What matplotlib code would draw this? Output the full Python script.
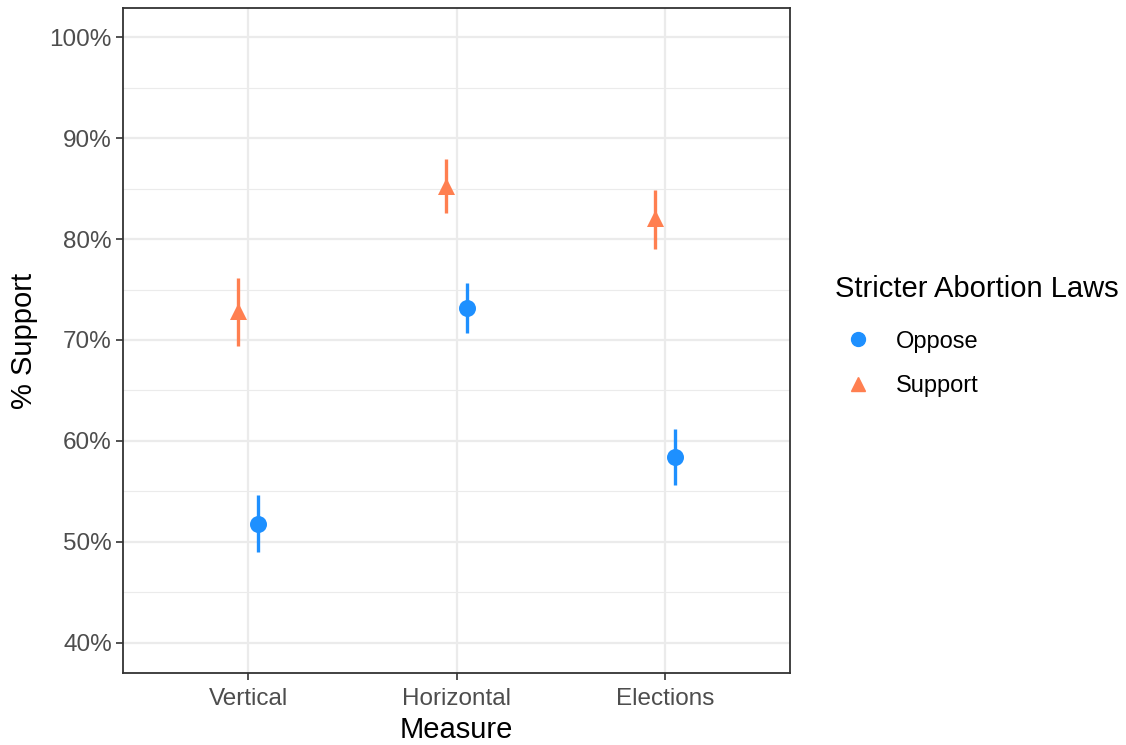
import matplotlib
matplotlib.use("Agg")
import matplotlib.pyplot as plt
from matplotlib.ticker import MultipleLocator, FuncFormatter
from matplotlib.lines import Line2D

plt.rcParams['font.family'] = ['Liberation Sans', 'DejaVu Sans']

measures = ["Vertical", "Horizontal", "Elections"]
# support for stricter abortion laws: Support group
support_mean = [72.9, 85.3, 82.1]
support_lo = [69.4, 82.6, 79.0]
support_hi = [76.1, 87.9, 84.9]
# Oppose group
oppose_mean = [51.8, 73.2, 58.4]
oppose_lo = [49.0, 70.7, 55.6]
oppose_hi = [54.6, 75.6, 61.2]

c_sup = "#FF7F50"
c_opp = "#1E90FF"
dodge = 0.05

fig = plt.figure(figsize=(11.26, 7.45), dpi=100)
ax = fig.add_axes([123/1126, 72/745, 667/1126, 665/745])

xs = list(range(1, len(measures) + 1))
for i, x in enumerate(xs):
    ax.plot([x - dodge, x - dodge], [support_lo[i], support_hi[i]], color=c_sup, lw=2.4, solid_capstyle='butt', zorder=3)
    ax.plot([x + dodge, x + dodge], [oppose_lo[i], oppose_hi[i]], color=c_opp, lw=2.4, solid_capstyle='butt', zorder=3)
ax.scatter([x - dodge for x in xs], support_mean, marker='^', s=150, color=c_sup, zorder=4, linewidths=0)
ax.scatter([x + dodge for x in xs], oppose_mean, marker='o', s=150, color=c_opp, zorder=4, linewidths=0)

ax.set_xlim(0.4, 3.6)
ax.set_ylim(37.0, 102.9)
ax.set_xticks(xs)
ax.set_xticklabels(measures)
ax.yaxis.set_major_locator(MultipleLocator(10))
ax.yaxis.set_minor_locator(MultipleLocator(5))
ax.yaxis.set_major_formatter(FuncFormatter(lambda v, p: f"{v:.0f}%"))
ax.grid(True, which='major', color='#EBEBEB', lw=1.6)
ax.grid(True, which='minor', axis='y', color='#EBEBEB', lw=0.8)
ax.set_axisbelow(True)
ax.tick_params(which='major', length=5, width=1.2, color='#333333', labelsize=17.5, labelcolor='#4D4D4D', pad=3)
ax.tick_params(axis='x', pad=6)
ax.tick_params(which='minor', length=0)
for s in ax.spines.values():
    s.set_color('#333333')
    s.set_linewidth(1.3)

ax.set_xlabel("Measure", fontsize=21, labelpad=4)
ax.set_ylabel("% Support", fontsize=21, labelpad=8)

handles = [
    Line2D([], [], marker='o', color=c_opp, ls='None', markersize=10, label='Oppose'),
    Line2D([], [], marker='^', color=c_sup, ls='None', markersize=10, label='Support'),
]
fig.legend(handles=handles, title="Stricter Abortion Laws", loc='center left',
           bbox_to_anchor=(823/1126, 1 - 336/745), frameon=False, fontsize=17,
           title_fontsize=21, handletextpad=0.6, labelspacing=0.95, borderpad=0)
leg = fig.legends[0]
leg._legend_box.align = "left"
leg._legend_box.sep = 20

fig.savefig("out.png", dpi=100)
